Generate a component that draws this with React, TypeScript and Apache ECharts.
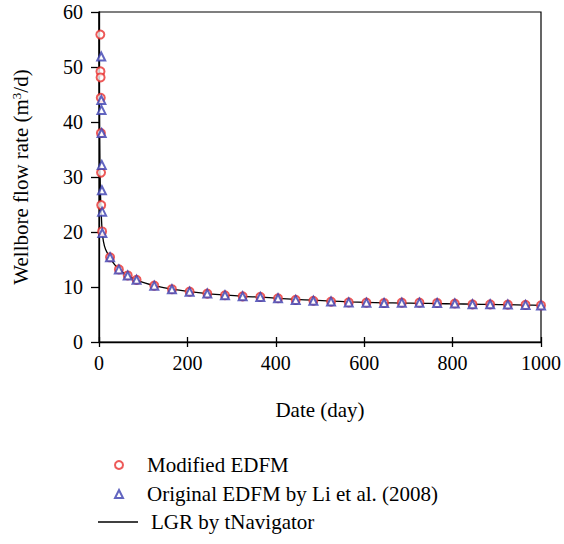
import React, { useEffect, useRef } from "react";
import * as echarts from "echarts";

const FONT = "'Times New Roman', 'Liberation Serif', serif";

// Modified EDFM (red circles)
const circleDays = [3, 3.3, 3.6, 4, 4.3, 4.6, 5, 7, 25, 45, 65, 85, 125, 165, 205, 245, 285, 325, 365, 405, 445, 485, 525, 565, 605, 645, 685, 725, 765, 805, 845, 885, 925, 965, 1000];
const circleValues = [55.9, 49.2, 48.1, 44.4, 38.0, 30.8, 24.9, 20.1, 15.4, 13.2, 12.1, 11.3, 10.25, 9.6, 9.15, 8.8, 8.5, 8.3, 8.2, 7.95, 7.65, 7.5, 7.35, 7.2, 7.15, 7.1, 7.15, 7.15, 7.1, 7.0, 6.85, 6.85, 6.8, 6.75, 6.65];

// Original EDFM by Li et al. (2008) (blue triangles)
const triDays = [5, 5.3, 5.6, 6, 6.3, 6.6, 7, 7.5, 25, 45, 65, 85, 125, 165, 205, 245, 285, 325, 365, 405, 445, 485, 525, 565, 605, 645, 685, 725, 765, 805, 845, 885, 925, 965, 1000];
const triValues = [51.9, 44.0, 42.2, 38.0, 32.2, 27.6, 23.7, 19.8, 15.4, 13.2, 12.1, 11.3, 10.25, 9.6, 9.15, 8.8, 8.5, 8.3, 8.2, 7.95, 7.65, 7.5, 7.35, 7.2, 7.15, 7.1, 7.15, 7.15, 7.1, 7.0, 6.85, 6.85, 6.8, 6.75, 6.65];

// LGR by tNavigator (black line)
const lineDays = [0.2, 0.5, 1, 2, 3, 4.5, 7, 10, 15, 25, 35, 45, 65, 85, 105, 125, 165, 205, 245, 285, 325, 365, 405, 445, 485, 525, 565, 605, 645, 685, 725, 765, 805, 845, 885, 925, 965, 1000];
const lineValues = [60, 50, 42, 33, 28, 24.5, 20.3, 18.3, 16.8, 15.3, 14.1, 13.2, 12.1, 11.3, 10.7, 10.25, 9.6, 9.15, 8.8, 8.55, 8.3, 8.15, 7.95, 7.75, 7.6, 7.45, 7.3, 7.2, 7.12, 7.08, 7.03, 6.98, 6.93, 6.88, 6.83, 6.78, 6.72, 6.65];

const xTicks = [0, 200, 400, 600, 800, 1000];
const yTicks = [0, 10, 20, 30, 40, 50, 60];

const zip = (xs: number[], ys: number[]) => xs.map((x, i) => [x, ys[i]]);

export default function App() {
  const ref = useRef<HTMLDivElement>(null);
  useEffect(() => {
    document.body.style.margin = "0";
    if (!ref.current) return;
    const chart = echarts.init(ref.current, undefined, { renderer: "svg" });
    const xMin = xTicks[0];
    const xMax = xTicks[xTicks.length - 1];
    const yMin = yTicks[0];
    const yMax = yTicks[yTicks.length - 1];
    const baseX = {
      type: "value" as const,
      min: xMin,
      max: xMax,
      interval: xTicks[1] - xTicks[0],
      splitLine: { show: false },
    };
    const tick = { fontFamily: FONT, fontSize: 20, color: "#000" };
    const txt = { fontFamily: FONT, fontSize: 21, color: "#000" };
    const scatterLegend = (name: string, top: number) => ({
      orient: "vertical",
      left: 109,
      top,
      itemWidth: 8,
      itemHeight: 8,
      textStyle: { ...txt, lineHeight: 22, padding: [0, 0, 0, 19] },
      data: [name],
    });
    chart.setOption({
      animation: false,
      textStyle: { fontFamily: FONT },
      grid: {
        left: 99,
        right: 21,
        top: 12,
        bottom: 202,
        show: true,
        borderColor: "#000",
        borderWidth: 1.2,
        backgroundColor: "transparent",
      },
      xAxis: [
        {
          ...baseX,
          name: "Date (day)",
          nameLocation: "middle",
          nameGap: 57,
          nameTextStyle: txt,
          axisLine: { show: true, lineStyle: { color: "#000", width: 1.3 } },
          axisTick: { show: true, inside: false, length: 5, lineStyle: { color: "#000", width: 1.3 } },
          axisLabel: { ...tick, margin: 11, formatter: (v: number) => String(v) },
        },
        {
          ...baseX,
          position: "bottom",
          axisLine: { show: false },
          axisTick: { show: true, inside: true, length: 5, lineStyle: { color: "#000", width: 1.3 } },
          axisLabel: { show: false },
        },
      ],
      yAxis: {
        type: "value",
        min: yMin,
        max: yMax,
        interval: yTicks[1] - yTicks[0],
        splitLine: { show: false },
        name: "{a|Wellbore flow rate (m}{s|3}{a|/d)}",
        nameLocation: "middle",
        nameGap: 68,
        nameRotate: 90,
        nameTextStyle: {
          ...txt,
          rich: {
            a: { ...txt },
            s: { fontFamily: FONT, fontSize: 13, color: "#000", verticalAlign: "top", padding: [0, 0, 8, 0] },
          },
        },
        axisLine: { show: true, lineStyle: { color: "#000", width: 1.3 } },
        axisTick: { show: true, inside: false, length: 8, lineStyle: { color: "#000", width: 1.3 } },
        axisLabel: { ...tick, margin: 16 },
      },
      legend: [
        scatterLegend("Modified EDFM", 449),
        scatterLegend("Original EDFM by Li et al. (2008)", 478),
        {
          orient: "vertical",
          left: 93,
          top: 506,
          itemWidth: 40,
          itemHeight: 1.4,
          textStyle: { ...txt, lineHeight: 22, padding: [0, 0, 0, 8] },
          data: [{ name: "LGR by tNavigator", icon: "rect" }],
        },
      ],
      series: [
        {
          name: "LGR by tNavigator",
          type: "line",
          data: zip(lineDays, lineValues),
          symbol: "none",
          smooth: 0.3,
          lineStyle: { color: "#000", width: 1.3 },
          itemStyle: { color: "#000" },
          clip: true,
          z: 1,
        },
        {
          name: "Modified EDFM",
          type: "scatter",
          data: zip(circleDays, circleValues),
          symbol: "emptyCircle",
          symbolSize: 8,
          itemStyle: { color: "#e8312f", borderColor: "#e8312f", borderWidth: 1.3 },
          z: 2,
        },
        {
          name: "Original EDFM by Li et al. (2008)",
          type: "scatter",
          data: zip(triDays, triValues),
          symbol: "emptyTriangle",
          symbolSize: 8,
          itemStyle: { color: "#3b3fb0", borderColor: "#3b3fb0", borderWidth: 1.3 },
          z: 3,
        },
      ],
    });
    return () => chart.dispose();
  }, []);
  return <div ref={ref} style={{ width: 564, height: 544 }} />;
}
